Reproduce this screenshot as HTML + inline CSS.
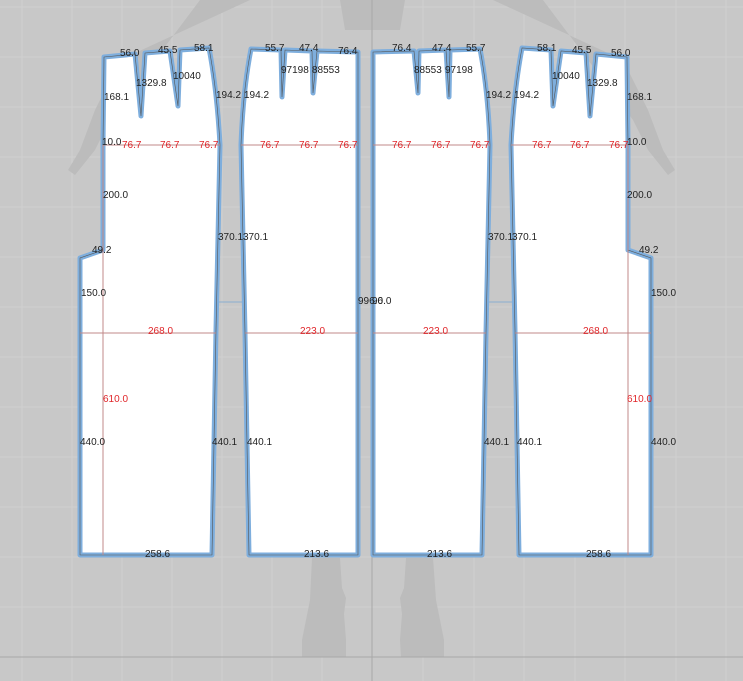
<!DOCTYPE html>
<html><head><style>
html,body{margin:0;padding:0;background:#c8c8c8;}
svg{display:block;}
text{font-family:"Liberation Sans",sans-serif;font-size:10px;fill:#222;}
.r{fill:#e0262a;}
</style></head><body>
<svg width="743" height="681" viewBox="0 0 743 681">
<rect width="743" height="681" fill="#c8c8c8"/>
<g stroke="#d0d0d0" stroke-width="1">
<line x1="22" y1="0" x2="22" y2="681"/><line x1="72" y1="0" x2="72" y2="681"/><line x1="122" y1="0" x2="122" y2="681"/><line x1="172" y1="0" x2="172" y2="681"/><line x1="222" y1="0" x2="222" y2="681"/><line x1="272" y1="0" x2="272" y2="681"/><line x1="322" y1="0" x2="322" y2="681"/><line x1="423" y1="0" x2="423" y2="681"/><line x1="474" y1="0" x2="474" y2="681"/><line x1="524" y1="0" x2="524" y2="681"/><line x1="575" y1="0" x2="575" y2="681"/><line x1="625" y1="0" x2="625" y2="681"/><line x1="676" y1="0" x2="676" y2="681"/><line x1="726" y1="0" x2="726" y2="681"/>
<line x1="0" y1="7" x2="743" y2="7"/><line x1="0" y1="57" x2="743" y2="57"/><line x1="0" y1="107" x2="743" y2="107"/><line x1="0" y1="157" x2="743" y2="157"/><line x1="0" y1="207" x2="743" y2="207"/><line x1="0" y1="257" x2="743" y2="257"/><line x1="0" y1="307" x2="743" y2="307"/><line x1="0" y1="357" x2="743" y2="357"/><line x1="0" y1="407" x2="743" y2="407"/><line x1="0" y1="457" x2="743" y2="457"/><line x1="0" y1="507" x2="743" y2="507"/><line x1="0" y1="557" x2="743" y2="557"/><line x1="0" y1="607" x2="743" y2="607"/>
</g>
<g fill="#bcbcbc">
<path d="M340,0 L405,0 L400,30 L345,30 Z"/>
<path d="M200,0 L250,0 L120,60 L95,110 L80,150 L68,170 L75,175 L95,150 L110,120 Z"/>
<path d="M543,0 L493,0 L623,60 L648,110 L663,150 L675,170 L668,175 L648,150 L633,120 Z"/>
<path d="M312,558 L340,558 L342,588 L346,598 L344,614 L346,640 L346,657 L302,657 L302,640 L310,600 Z"/>
<path d="M406,558 L433,558 L436,600 L444,640 L444,657 L401,657 L400,640 L402,614 L400,598 L404,588 Z"/>
</g>
<line x1="372" y1="0" x2="372" y2="681" stroke="#a8a8a8" stroke-width="1"/>
<line x1="0" y1="657" x2="743" y2="657" stroke="#a8a8a8" stroke-width="1"/>
<line x1="218" y1="302" x2="245" y2="302" stroke="#8aaed0" stroke-width="1"/>
<line x1="486" y1="302" x2="513" y2="302" stroke="#8aaed0" stroke-width="1"/>

<g id="p1">
<path d="M104,57 L135,54 L141,116 L145,53 L170,51 L178,106 L180,50 L209,48 Q217,90 220,145 L216,330 L212,555 L80,555 L80,258 L103,250 L103,145 Z" fill="#fff" stroke="#7eaedd" stroke-width="5" stroke-linejoin="round"/>
<path d="M104,57 L135,54 L141,116 L145,53 L170,51 L178,106 L180,50 L209,48 Q217,90 220,145 L216,330 L212,555 L80,555 L80,258 L103,250 L103,145 Z" fill="none" stroke="#555" stroke-width="0.6"/>
<g stroke="#c08888" stroke-width="1"><line x1="103" y1="145" x2="220" y2="145"/><line x1="80" y1="333" x2="216" y2="333"/><line x1="103" y1="145" x2="103" y2="555"/></g>
</g>
<g id="p2">
<path d="M251,49 L281,50 L282,97 L285,50 L312,51 L313,93 L317,51 L358,52 L358,555 L249,555 L245,333 L241,145 Q243,90 251,49 Z" fill="#fff" stroke="#7eaedd" stroke-width="5" stroke-linejoin="round"/>
<path d="M251,49 L281,50 L282,97 L285,50 L312,51 L313,93 L317,51 L358,52 L358,555 L249,555 L245,333 L241,145 Q243,90 251,49 Z" fill="none" stroke="#555" stroke-width="0.6"/>
<g stroke="#c08888" stroke-width="1"><line x1="241" y1="145" x2="358" y2="145"/><line x1="245" y1="333" x2="358" y2="333"/></g>
</g>
<g transform="translate(731,0) scale(-1,1)">
<use href="#p1"/><use href="#p2"/>
</g>

<text x="120" y="56">56.0</text><text x="158" y="53">45.5</text><text x="194" y="51">58.1</text>
<text x="136" y="86">1329.8</text><text x="173" y="79">10040</text>
<text x="104" y="100">168.1</text><text x="102" y="145">10.0</text><text x="103" y="198">200.0</text>
<text x="92" y="253">49.2</text><text x="81" y="296">150.0</text><text x="80" y="445">440.0</text>
<text x="145" y="557">258.6</text><text x="216" y="98">194.2</text><text x="218" y="240">370.1</text><text x="212" y="445">440.1</text>
<text class="r" x="122" y="148">76.7</text><text class="r" x="160" y="148">76.7</text><text class="r" x="199" y="148">76.7</text>
<text class="r" x="148" y="334">268.0</text><text class="r" x="103" y="402">610.0</text>

<text x="265" y="51">55.7</text><text x="299" y="51">47.4</text><text x="338" y="54">76.4</text>
<text x="281" y="73">97198</text><text x="312" y="73">88553</text>
<text x="244" y="98">194.2</text><text x="243" y="240">370.1</text><text x="247" y="445">440.1</text>
<text x="304" y="557">213.6</text><text x="358" y="304">996.0</text><text x="372" y="304">96.0</text>
<text class="r" x="260" y="148">76.7</text><text class="r" x="299" y="148">76.7</text><text class="r" x="338" y="148">76.7</text>
<text class="r" x="300" y="334">223.0</text>

<text x="392" y="51">76.4</text><text x="432" y="51">47.4</text><text x="466" y="51">55.7</text>
<text x="414" y="73">88553</text><text x="445" y="73">97198</text>
<text x="486" y="98">194.2</text><text x="488" y="240">370.1</text><text x="484" y="445">440.1</text>
<text x="427" y="557">213.6</text>
<text class="r" x="392" y="148">76.7</text><text class="r" x="431" y="148">76.7</text><text class="r" x="470" y="148">76.7</text>
<text class="r" x="423" y="334">223.0</text>

<text x="537" y="51">58.1</text><text x="572" y="53">45.5</text><text x="611" y="56">56.0</text>
<text x="552" y="79">10040</text><text x="587" y="86">1329.8</text>
<text x="514" y="98">194.2</text><text x="512" y="240">370.1</text><text x="517" y="445">440.1</text>
<text x="627" y="100">168.1</text><text x="627" y="145">10.0</text><text x="627" y="198">200.0</text>
<text x="639" y="253">49.2</text><text x="651" y="296">150.0</text><text x="651" y="445">440.0</text>
<text x="586" y="557">258.6</text>
<text class="r" x="532" y="148">76.7</text><text class="r" x="570" y="148">76.7</text><text class="r" x="609" y="148">76.7</text>
<text class="r" x="583" y="334">268.0</text><text class="r" x="627" y="402">610.0</text>
</svg>
</body></html>
